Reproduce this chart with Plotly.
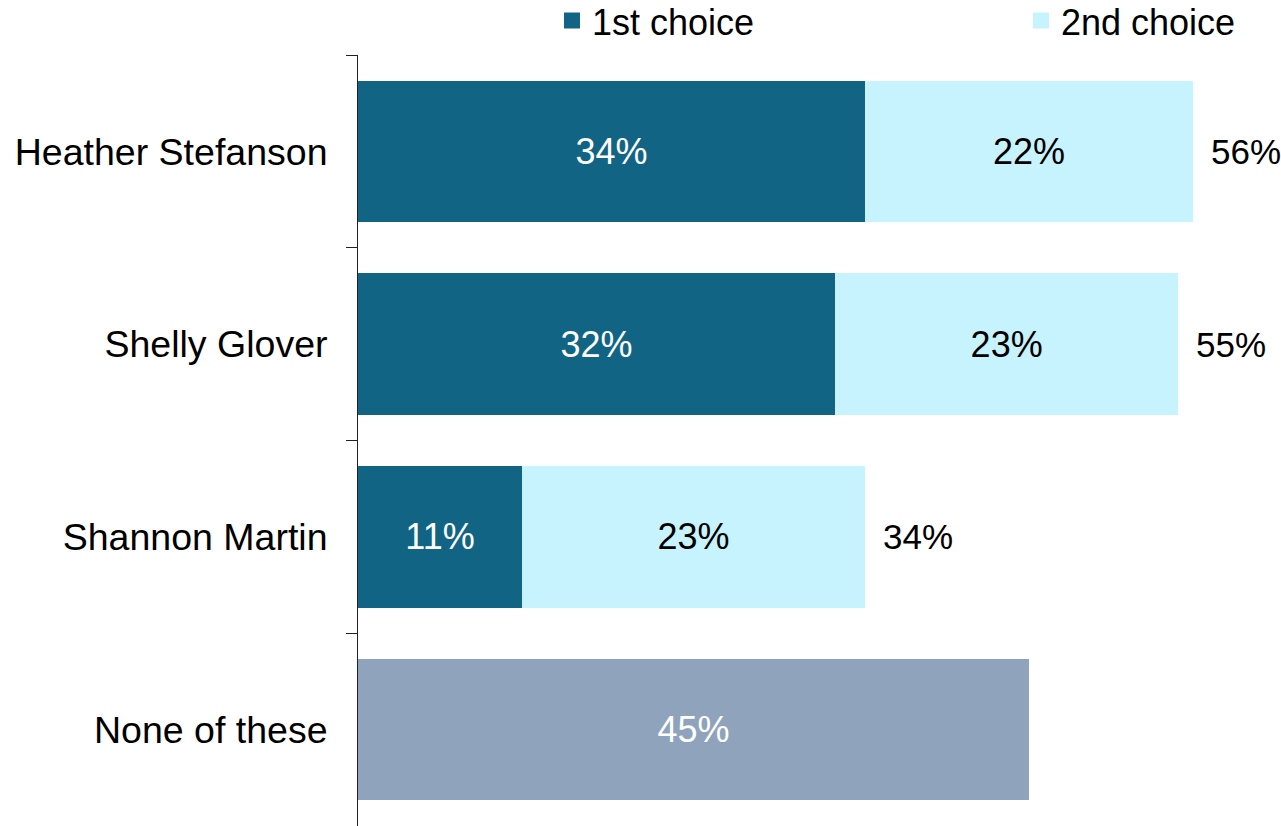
import plotly.graph_objects as go

categories = ["Heather Stefanson", "Shelly Glover", "Shannon Martin", "None of these"]
first_choice = [34, 32, 11, None]
second_choice = [22, 23, 23, None]
none_vals = [None, None, None, 45]
totals = [56, 55, 34, None]

FONT = "Liberation Sans, Arial, sans-serif"
C1 = "#126485"
C2 = "#C6F3FD"
C3 = "#8FA3BC"

fig = go.Figure()
fig.add_trace(go.Bar(
    y=categories, x=first_choice, name="1st choice", orientation="h",
    marker=dict(color=C1, line=dict(width=0)), showlegend=False,
    text=[f"{v}%" if v is not None else "" for v in first_choice],
    textposition="inside", insidetextanchor="middle", textangle=0,
    textfont=dict(color="white", size=36, family=FONT),
))
fig.add_trace(go.Bar(
    y=categories, x=second_choice, name="2nd choice", orientation="h",
    marker=dict(color=C2, line=dict(width=0)), showlegend=False,
    text=[f"{v}%" if v is not None else "" for v in second_choice],
    textposition="inside", insidetextanchor="middle", textangle=0,
    textfont=dict(color="black", size=36, family=FONT),
))
fig.add_trace(go.Bar(
    y=categories, x=none_vals, name="None of these", orientation="h",
    marker=dict(color=C3, line=dict(width=0)), showlegend=False,
    text=[f"{v}%" if v is not None else "" for v in none_vals],
    textposition="inside", insidetextanchor="middle", textangle=0,
    textfont=dict(color="white", size=36, family=FONT),
))

# legend-only entries with larger square swatches
fig.add_trace(go.Scatter(x=[None], y=[None], mode="markers", name="1st choice",
                         marker=dict(symbol="square", size=18, color=C1),
                         legend="legend", hoverinfo="skip"))
fig.add_trace(go.Scatter(x=[None], y=[None], mode="markers", name="2nd choice",
                         marker=dict(symbol="square", size=18, color=C2),
                         legend="legend2", hoverinfo="skip"))

for cat, t in zip(categories, totals):
    if t is None:
        continue
    fig.add_annotation(x=t, y=cat, text=f"{t}%", showarrow=False,
                       xanchor="left", xshift=16,
                       font=dict(size=35, color="black", family=FONT))

leg_common = dict(orientation="h", xref="container", yref="container",
                  xanchor="left", yanchor="middle", y=0.975,
                  font=dict(size=36, family=FONT), itemclick=False,
                  bgcolor="rgba(0,0,0,0)")

fig.update_layout(
    width=1281, height=826,
    margin=dict(l=358, r=0, t=55, b=0, autoexpand=False),
    barmode="stack", bargap=0.265,
    plot_bgcolor="white", paper_bgcolor="white",
    font=dict(family=FONT, size=36, color="black"),
    showlegend=True,
    legend=dict(x=0.4309, **leg_common),
    legend2=dict(x=0.797, **leg_common),
    xaxis=dict(range=[0, 61.9], visible=False, fixedrange=True),
    yaxis=dict(categoryorder="array", categoryarray=categories,
               autorange="reversed", showline=True, linecolor="#222222",
               linewidth=1, ticks="outside", ticklen=11, tickcolor="#222222",
               tickson="boundaries", ticklabelstandoff=22, automargin=False,
               tickfont=dict(size=37.5, family=FONT), showgrid=False,
               fixedrange=True),
)

fig.write_html(
    "out.html",
    config={"displayModeBar": False},
    post_script="document.body.style.margin='0';document.body.style.overflow='hidden';",
)
